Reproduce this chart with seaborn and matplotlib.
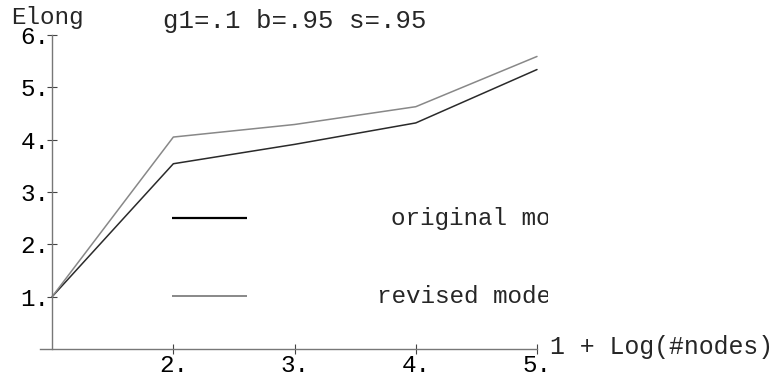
import matplotlib
matplotlib.use("Agg")
import matplotlib.pyplot as plt
import numpy as np
import pandas as pd
import seaborn as sns
from matplotlib.transforms import Bbox, TransformedBbox

# ---- data ----
x_values = [1, 2, 3, 4, 5]
original = [1.0, 3.54, 3.91, 4.32, 5.34]
revised = [1.0, 4.05, 4.29, 4.63, 5.59]
series_names = ["original model", "revised model"]
x_ticks = [2, 3, 4, 5]
x_tick_labels = ["2.", "3.", "4.", "5."]
y_ticks = [1, 2, 3, 4, 5, 6]
y_tick_labels = ["1.", "2.", "3.", "4.", "5.", "6."]
title = "g1=.1 b=.95 s=.95"
x_label = "1 + Log(#nodes)"
y_label = "Elong"

df = pd.DataFrame({
    "x": x_values * 2,
    "y": original + revised,
    "model": [n for n in series_names for _ in x_values],
})

sns.set_style("white")
plt.rcParams["font.family"] = ["Liberation Mono", "DejaVu Sans"]

W, H = 781, 379
FS = 17.5
fig = plt.figure(figsize=(W / 100, H / 100), dpi=100)
ax = fig.add_axes([40 / W, 30 / H, 497 / W, 314 / H])
ax.patch.set_alpha(0)

sns.lineplot(data=df, x="x", y="y", hue="model",
             palette={"original model": "#2a2a2a", "revised model": "#888888"},
             linewidth=1.1, legend=False, ax=ax, clip_on=False)

ax.set_xlim(0.9, 5)
ax.set_ylim(0, 6)
for s in ["top", "right"]:
    ax.spines[s].set_visible(False)
ax.spines["left"].set_position(("data", 1))
for s in ["left", "bottom"]:
    ax.spines[s].set_color("#777777")
    ax.spines[s].set_linewidth(1.0)
ax.set_xticks(x_ticks, x_tick_labels)
ax.set_yticks(y_ticks, y_tick_labels)
ax.tick_params(bottom=True, left=True, direction="inout", length=7, width=0.8,
               color="#444444", labelsize=FS, labelcolor="black")
ax.tick_params(axis="x", pad=0.0)
ax.tick_params(axis="y", pad=-1.5)
ax.set_xlabel("")
ax.set_ylabel("")

# ---- overlay for legend and labels (pixel coordinates) ----
ov = fig.add_axes([0, 0, 1, 1])
ov.set_xlim(0, W)
ov.set_ylim(H, 0)
ov.axis("off")
ov.patch.set_alpha(0)

ov.plot([172, 247], [218, 218], color="black", lw=1.6, solid_capstyle="butt")
ov.plot([172, 247], [296, 296], color="#888888", lw=1.4, solid_capstyle="butt")
clip = TransformedBbox(Bbox([[0, 0], [548 / W, 1]]), fig.transFigure)
t1 = ov.text(391, 225, series_names[0], fontsize=FS, va="baseline", clip_on=True)
t2 = ov.text(377, 303, series_names[1], fontsize=FS, va="baseline", clip_on=True)
for t in (t1, t2):
    t.set_clip_path(None)
    t.set_clip_box(clip)
    t.set_clip_on(True)

ov.text(163, 28, title, fontsize=18.5, va="baseline")
ov.text(11, 24, y_label, fontsize=FS, va="baseline")
ov.text(550, 347, x_label, fontsize=17.9, va="center")

fig.savefig("out.png", dpi=100)
